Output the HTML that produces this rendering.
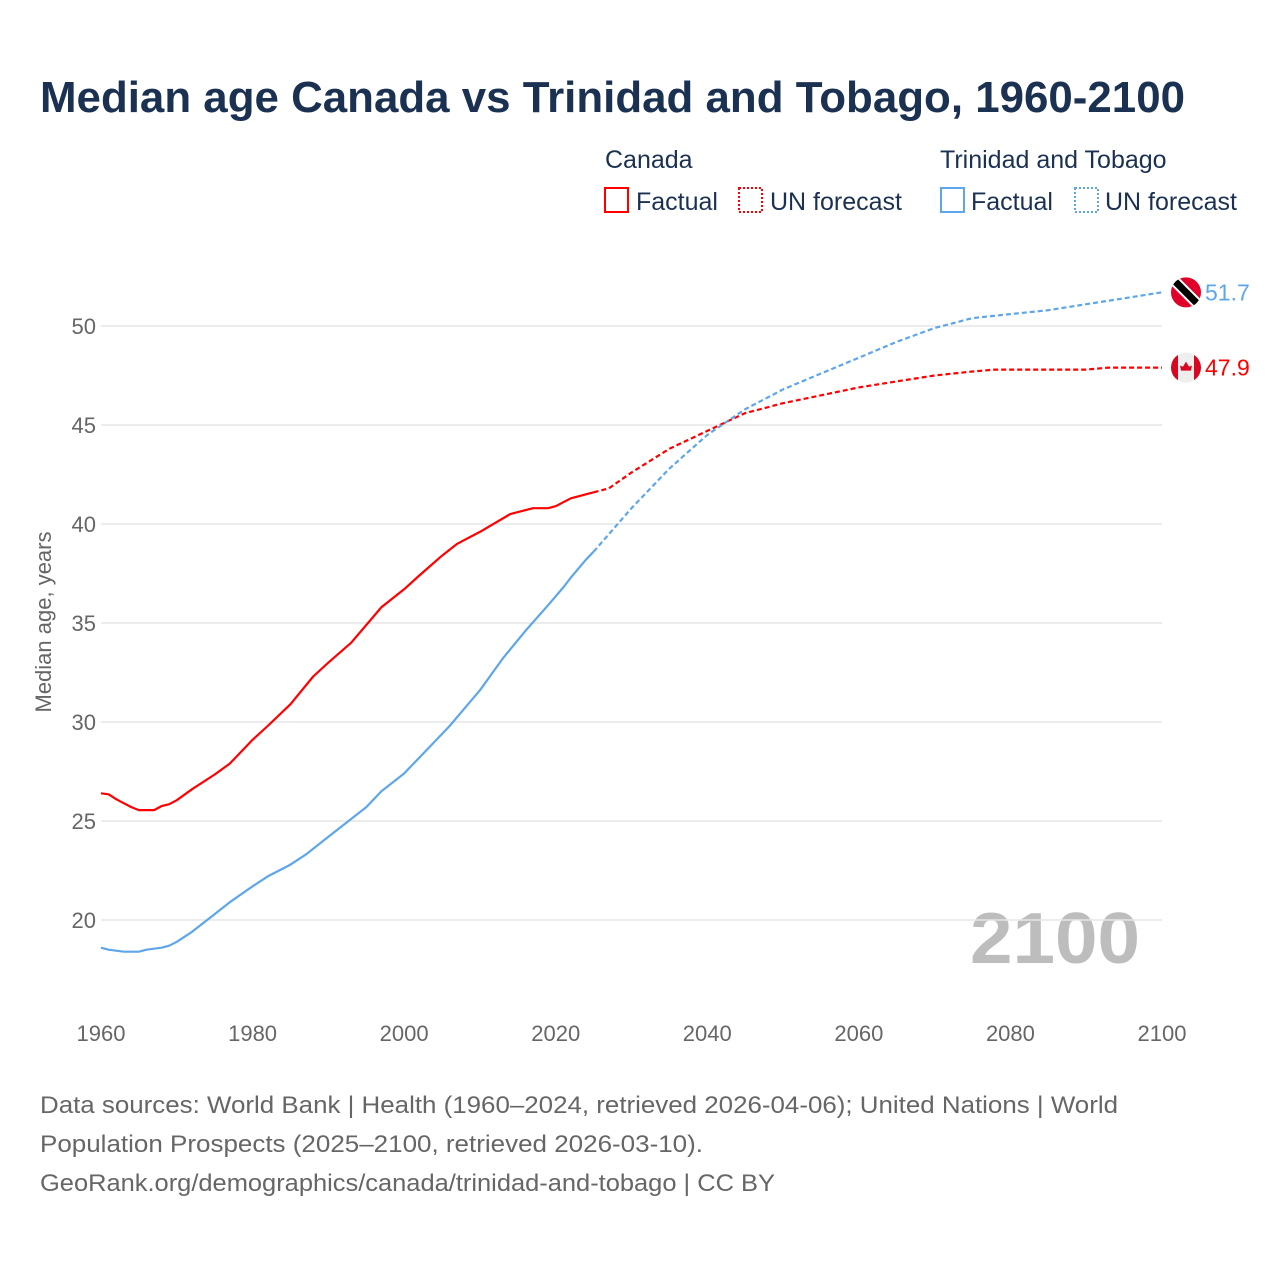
<!DOCTYPE html>
<html><head><meta charset="utf-8"><style>
body{margin:0;background:#fff;font-family:"Liberation Sans",sans-serif}
#wrap{position:relative;width:1280px;height:1280px;overflow:hidden}
</style></head><body>
<div id="wrap">
<svg id="chart" width="1280" height="1280" xmlns="http://www.w3.org/2000/svg">
<text x="40" y="112" font-size="44" font-weight="bold" fill="#1b3152" textLength="1145" lengthAdjust="spacingAndGlyphs">Median age Canada vs Trinidad and Tobago, 1960-2100</text>
<g font-size="25" fill="#1b3152">
<text x="605" y="168">Canada</text>
<text x="940" y="168">Trinidad and Tobago</text>
<g><rect x="605" y="188" width="23" height="24" fill="none" stroke="#f00" stroke-width="2"/><text x="636" y="210">Factual</text></g>
<g><rect x="739" y="188" width="23" height="24" fill="none" stroke="#f00" stroke-width="2" stroke-dasharray="2,2"/><text x="770" y="210">UN forecast</text></g>
<g><rect x="941" y="188" width="23" height="24" fill="none" stroke="#5ea6ea" stroke-width="2"/><text x="971" y="210">Factual</text></g>
<g><rect x="1075" y="188" width="23" height="24" fill="none" stroke="#5ea6ea" stroke-width="2" stroke-dasharray="2,2"/><text x="1105" y="210">UN forecast</text></g>
</g>
<text x="1140" y="963" font-size="72" font-weight="bold" fill="#bdbdbd" text-anchor="end" textLength="170" lengthAdjust="spacingAndGlyphs">2100</text>
<text transform="translate(51,622) rotate(-90)" font-size="22" fill="#666" text-anchor="middle">Median age, years</text>
<g id="grid"></g><g id="marks"></g>
<g font-size="24" fill="#666">
<text x="40" y="1113" textLength="1078" lengthAdjust="spacingAndGlyphs">Data sources: World Bank | Health (1960–2024, retrieved 2026-04-06); United Nations | World</text>
<text x="40" y="1152" textLength="663" lengthAdjust="spacingAndGlyphs">Population Prospects (2025–2100, retrieved 2026-03-10).</text>
<text x="40" y="1191" textLength="735" lengthAdjust="spacingAndGlyphs">GeoRank.org/demographics/canada/trinidad-and-tobago | CC BY</text>
</g>
</svg>
</div>
<script>
const yTicks=[20,25,30,35,40,45,50];
const xTicks=[1960,1980,2000,2020,2040,2060,2080,2100];
const caFactYears=[1960,1961,1962,1963,1964,1965,1967,1968,1969,1970,1972,1975,1977,1980,1982,1985,1988,1990,1993,1995,1997,2000,2002,2005,2007,2010,2014,2017,2019,2020,2022,2025];
const caFactVals=[26.4,26.35,26.1,25.9,25.7,25.55,25.55,25.75,25.85,26.05,26.6,27.35,27.9,29.1,29.8,30.9,32.3,33.0,34.0,34.9,35.8,36.7,37.4,38.4,39.0,39.6,40.5,40.8,40.8,40.9,41.3,41.6];
const caFcYears=[2025,2027,2030,2035,2040,2045,2050,2055,2060,2065,2070,2075,2078,2080,2085,2090,2093,2095,2100];
const caFcVals=[41.6,41.8,42.6,43.8,44.7,45.6,46.1,46.5,46.9,47.2,47.5,47.7,47.8,47.8,47.8,47.8,47.9,47.9,47.9];
const ttFactYears=[1960,1961,1963,1965,1966,1968,1969,1970,1972,1975,1977,1980,1982,1985,1987,1990,1993,1995,1997,2000,2003,2006,2008,2010,2013,2016,2019,2021,2022,2024,2025];
const ttFactVals=[18.6,18.5,18.4,18.4,18.5,18.6,18.7,18.9,19.4,20.3,20.9,21.7,22.2,22.8,23.3,24.2,25.1,25.7,26.5,27.4,28.6,29.8,30.7,31.6,33.2,34.6,35.9,36.8,37.3,38.2,38.6];
const ttFcYears=[2025,2030,2035,2040,2045,2050,2055,2060,2065,2070,2075,2080,2085,2090,2095,2100];
const ttFcVals=[38.6,40.8,42.8,44.5,45.8,46.8,47.6,48.4,49.2,49.9,50.4,50.6,50.8,51.1,51.4,51.7];
const X=y=>101+(y-1960)*(1061/140);
const Y=v=>920-(v-20)*19.8;
const NS="http://www.w3.org/2000/svg";
const grid=document.getElementById('grid'),marks=document.getElementById('marks');
function mk(tag,attrs,parent){const e=document.createElementNS(NS,tag);for(const k in attrs)e.setAttribute(k,attrs[k]);parent.appendChild(e);return e;}
yTicks.forEach(t=>{
 const l=mk('line',{x1:101,x2:1162,y1:Y(t),y2:Y(t),stroke:'#e6e6e6','stroke-width':1.5},grid);
 
 
 const tx=mk('text',{x:96,y:Y(t)+8,'font-size':22,fill:'#666','text-anchor':'end'},grid);
 tx.textContent=t;
 
 
});
xTicks.forEach(t=>{
 const tx=mk('text',{x:X(t),y:1041,'font-size':22,fill:'#666','text-anchor':'middle'},grid);
 tx.textContent=t;
 
 
});
function line(xs,vs,color,dash,name){
 const d=xs.map((x,i)=>(i?'L':'M')+X(x).toFixed(1)+','+Y(vs[i]).toFixed(1)).join('');
 const p=mk('path',{d:d,fill:'none',stroke:color,'stroke-width':2.2,'stroke-linejoin':'round'},marks);
 if(dash)p.setAttribute('stroke-dasharray','5,3');
 
 
}
line(caFactYears,caFactVals,'#f00',false,'canada-factual-line');
line(caFcYears,caFcVals,'#f00',true,'canada-forecast-line');
line(ttFactYears,ttFactVals,'#5ea6ea',false,'tt-factual-line');
line(ttFcYears,ttFcVals,'#5ea6ea',true,'tt-forecast-line');
const ttEnd=ttFcVals[ttFcVals.length-1],caEnd=caFcVals[caFcVals.length-1];
const cx=1186;
const g1=mk('g',{},marks);


const cp=mk('clipPath',{id:'c1'},g1);mk('circle',{cx:cx,cy:Y(ttEnd),r:15},cp);
const gg=mk('g',{'clip-path':'url(#c1)'},g1);
mk('rect',{x:cx-16,y:Y(ttEnd)-16,width:32,height:32,fill:'#e0002a'},gg);
mk('line',{x1:cx-16,y1:Y(ttEnd)-16,x2:cx+16,y2:Y(ttEnd)+16,stroke:'#fff','stroke-width':11},gg);
mk('line',{x1:cx-16,y1:Y(ttEnd)-16,x2:cx+16,y2:Y(ttEnd)+16,stroke:'#000','stroke-width':7},gg);
const t1=mk('text',{x:1205,y:Y(ttEnd)+8,'font-size':23,fill:'#5ea6ea'},marks);
t1.textContent=ttEnd.toFixed(1);


const g2=mk('g',{},marks);


const cp2=mk('clipPath',{id:'c2'},g2);mk('circle',{cx:cx,cy:Y(caEnd),r:15},cp2);
const g3=mk('g',{'clip-path':'url(#c2)'},g2);
mk('rect',{x:cx-16,y:Y(caEnd)-16,width:32,height:32,fill:'#eee'},g3);
mk('rect',{x:cx-16,y:Y(caEnd)-16,width:8,height:32,fill:'#d80621'},g3);
mk('rect',{x:cx+8,y:Y(caEnd)-16,width:8,height:32,fill:'#d80621'},g3);
mk('path',{d:`M${cx},${Y(caEnd)-6} l3,5 l3,-1 l-1,5 l-5,0 l-5,0 l-1,-5 l3,1 z`,fill:'#d80621'},g3);
const t2=mk('text',{x:1205,y:Y(caEnd)+8,'font-size':23,fill:'#f00'},marks);
t2.textContent=caEnd.toFixed(1);


</script>
</body></html>
